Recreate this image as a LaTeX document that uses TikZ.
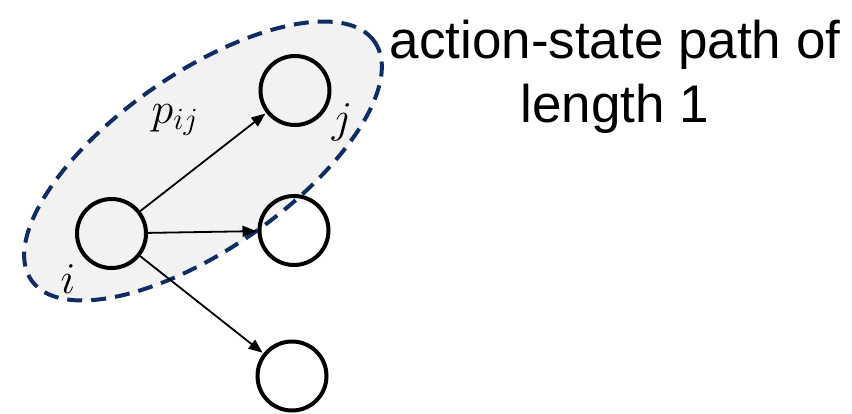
\documentclass[tikz,border=0pt]{standalone}
\usepackage{fix-cm}
\usepackage{fontspec}
\setmainfont{Liberation Sans}
\usetikzlibrary{arrows.meta}
\definecolor{groupfill}{HTML}{F2F2F2}
\definecolor{groupline}{HTML}{0F2C64}
\begin{document}
\begin{tikzpicture}[x=1pt,y=-1pt,
  state/.style={circle,draw=black,line width=4pt,minimum size=69pt,inner sep=0pt},
  edge/.style={line width=1.8pt,-{Triangle[length=14pt,width=11pt]},shorten >=1pt},
  lab/.style={font=\fontsize{44}{50}\selectfont},
  caption/.style={font=\fontsize{53}{64}\selectfont,align=center}]
\useasboundingbox (0,0) rectangle (852,413);
% the grouped path: a tilted dashed ellipse
\draw[groupline,fill=groupfill,line width=4pt,dash pattern=on 15pt off 9pt]
  (203,161) ellipse [x radius=209pt,y radius=88pt,rotate=34.8];
% states
\node[state] (i) at (111.5,233.5) {};
\node[state] (j) at (295,90.5) {};
\node[state] (m) at (294,230.5) {};
\node[state] (b) at (292,376) {};
% actions
\draw[edge] (i) -- (j);
\draw[edge] (i) -- (m);
\draw[edge] (i) -- (b);
% labels
\node[lab] (pij) at (175,120) {$p_{ij}$};
\node[lab] (li) at (68,279) {$i$};
\node[lab] (lj) at (342,122) {$j$};
\node[caption] (cap) at (615,77) {action-state path of\\length 1};
\end{tikzpicture}
\end{document}
